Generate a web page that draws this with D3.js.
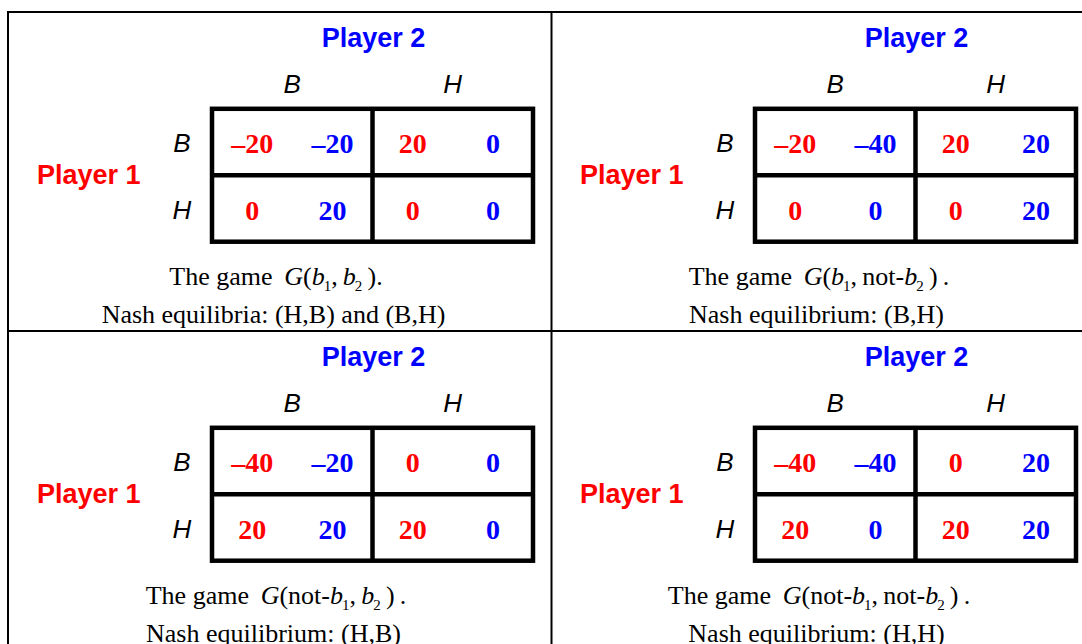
<!DOCTYPE html>
<html>
<head>
<meta charset="utf-8">
<script src="https://cdn.jsdelivr.net/npm/d3@7"></script>
<style>
  html, body { margin: 0; padding: 0; background: #fff; }
  svg { display: block; }
</style>
</head>
<body>
<svg id="chart" width="1082" height="644"></svg>
<script>
// ---- data ----
const strategies = ["B", "H"];               // strategies of both players
const player1Label = "Player 1";
const player2Label = "Player 2";
// payoffs per game, order: [B,B], [B,H], [H,B], [H,H]  (row = Player 1, column = Player 2)
const payoffs1 = [
  [-20, 20, 0, 0],
  [-20, 20, 0, 0],
  [-40, 0, 20, 20],
  [-40, 0, 20, 20]
];
const payoffs2 = [
  [-20, 0, 20, 0],
  [-40, 20, 0, 20],
  [-20, 0, 20, 0],
  [-40, 20, 0, 20]
];
// whether argument b1 / b2 is negated ("not-") in each game
const notB1 = [false, false, true, true];
const notB2 = [false, true, false, true];
const equilibriumLabel = ["Nash equilibria:", "Nash equilibrium:", "Nash equilibrium:", "Nash equilibrium:"];
const equilibria = ["(H,B) and (B,H)", "(B,H)", "(H,B)", "(H,H)"];

// ---- layout ----
const svg = d3.select("#chart");
const RED = "#ff0000", BLUE = "#0000ff";
const SANS = "'Liberation Sans', Arial, Helvetica, sans-serif";
const SERIF = "'Liberation Serif', 'Times New Roman', Times, serif";

const panelW = 543.5, panelH = 319;
const originX = 8, originY = 12;

// outer frame and dividers
svg.append("rect")
  .attr("x", originX).attr("y", originY)
  .attr("width", panelW * 2).attr("height", panelH * 2)
  .attr("fill", "none").attr("stroke", "#000").attr("stroke-width", 2);
svg.append("line")
  .attr("x1", originX + panelW).attr("x2", originX + panelW)
  .attr("y1", originY).attr("y2", originY + panelH * 2)
  .attr("stroke", "#000").attr("stroke-width", 2);
svg.append("line")
  .attr("x1", originX).attr("x2", originX + panelW * 2)
  .attr("y1", originY + panelH).attr("y2", originY + panelH)
  .attr("stroke", "#000").attr("stroke-width", 2);

// matrix scales (coordinates relative to panel origin)
const mx0 = 204, mx1 = 525, my0 = 96.8, my1 = 229.7;
const xs = d3.scaleBand().domain(strategies).range([mx0, mx1]);
const ys = d3.scaleBand().domain(strategies).range([my0, my1]);
const fmt = v => (v < 0 ? "\u2013" + Math.abs(v) : String(v));

payoffs1.forEach((p1, gi) => {
  const col = gi % 2, row = Math.floor(gi / 2);
  const g = svg.append("g")
    .attr("transform", `translate(${originX + col * 543},${originY + row * 319})`);

  // Player 2 title
  g.append("text")
    .attr("x", (mx0 + mx1) / 2 + 1).attr("y", 34.7)
    .attr("text-anchor", "middle")
    .attr("font-family", SANS).attr("font-weight", "bold").attr("font-size", 27)
    .attr("fill", BLUE).text(player2Label);

  // Player 1 title
  g.append("text")
    .attr("x", 80.7).attr("y", 172.3)
    .attr("text-anchor", "middle")
    .attr("font-family", SANS).attr("font-weight", "bold").attr("font-size", 27)
    .attr("fill", RED).text(player1Label);

  // column labels
  g.selectAll("text.colLab").data(strategies).enter().append("text")
    .attr("class", "colLab")
    .attr("x", d => xs(d) + xs.bandwidth() / 2)
    .attr("y", 81.3)
    .attr("text-anchor", "middle")
    .attr("font-family", SANS).attr("font-style", "italic").attr("font-size", 26)
    .attr("fill", "#000").text(d => d);

  // row labels
  g.selectAll("text.rowLab").data(strategies).enter().append("text")
    .attr("class", "rowLab")
    .attr("x", 174)
    .attr("y", d => ys(d) + ys.bandwidth() / 2 + 10.3)
    .attr("text-anchor", "middle")
    .attr("font-family", SANS).attr("font-style", "italic").attr("font-size", 26)
    .attr("fill", "#000").text(d => d);

  // matrix lines
  g.append("rect")
    .attr("x", mx0).attr("y", my0)
    .attr("width", mx1 - mx0).attr("height", my1 - my0)
    .attr("fill", "none").attr("stroke", "#000").attr("stroke-width", 4.5);
  g.append("line")
    .attr("x1", xs("H")).attr("x2", xs("H")).attr("y1", my0).attr("y2", my1)
    .attr("stroke", "#000").attr("stroke-width", 4.5);
  g.append("line")
    .attr("x1", mx0).attr("x2", mx1).attr("y1", ys("H")).attr("y2", ys("H"))
    .attr("stroke", "#000").attr("stroke-width", 4.5);

  // payoffs
  const cells = [];
  strategies.forEach((r, ri) => strategies.forEach((c, ci) => {
    const k = ri * 2 + ci;
    cells.push({ r, c, v: p1[k], who: 1 });
    cells.push({ r, c, v: payoffs2[gi][k], who: 2 });
  }));
  g.selectAll("text.val").data(cells).enter().append("text")
    .attr("class", "val")
    .attr("x", d => xs(d.c) + xs.bandwidth() * (d.who === 1 ? 0.25 : 0.75))
    .attr("y", d => ys(d.r) + ys.bandwidth() / 2 + 11.2)
    .attr("text-anchor", "middle")
    .attr("font-family", SERIF).attr("font-weight", "bold").attr("font-size", 28)
    .attr("fill", d => d.who === 1 ? RED : BLUE)
    .text(d => fmt(d.v));

  // caption line 1: The game G(b1, b2).
  const t1 = g.append("text")
    .attr("x", 268).attr("y", 273)
    .attr("text-anchor", "middle")
    .attr("font-family", SERIF).attr("font-size", 26).attr("fill", "#000");
  t1.append("tspan").text("The game\u2009 ");
  t1.append("tspan").attr("font-style", "italic").text("G");
  t1.append("tspan").text("(" + (notB1[gi] ? "not-" : ""));
  t1.append("tspan").attr("font-style", "italic").text("b");
  t1.append("tspan").attr("font-size", 15).attr("dy", 6).attr("dx", -1).text("1");
  t1.append("tspan").attr("dy", -6).text("," + (notB2[gi] ? "\u2009not-" : "\u2009"));
  t1.append("tspan").attr("font-style", "italic").text("b");
  t1.append("tspan").attr("font-size", 15).attr("dy", 6).attr("dx", -1).text("2");
  t1.append("tspan").attr("dy", -6).text(gi === 0 ? "\u2009)." : "\u2009)\u2009.");

  // caption line 2
  g.append("text")
    .attr("x", 265.5).attr("y", 310.7)
    .attr("text-anchor", "middle")
    .attr("font-family", SERIF).attr("font-size", 26).attr("fill", "#000")
    .text(equilibriumLabel[gi] + " " + equilibria[gi]);
});
</script>
</body>
</html>
